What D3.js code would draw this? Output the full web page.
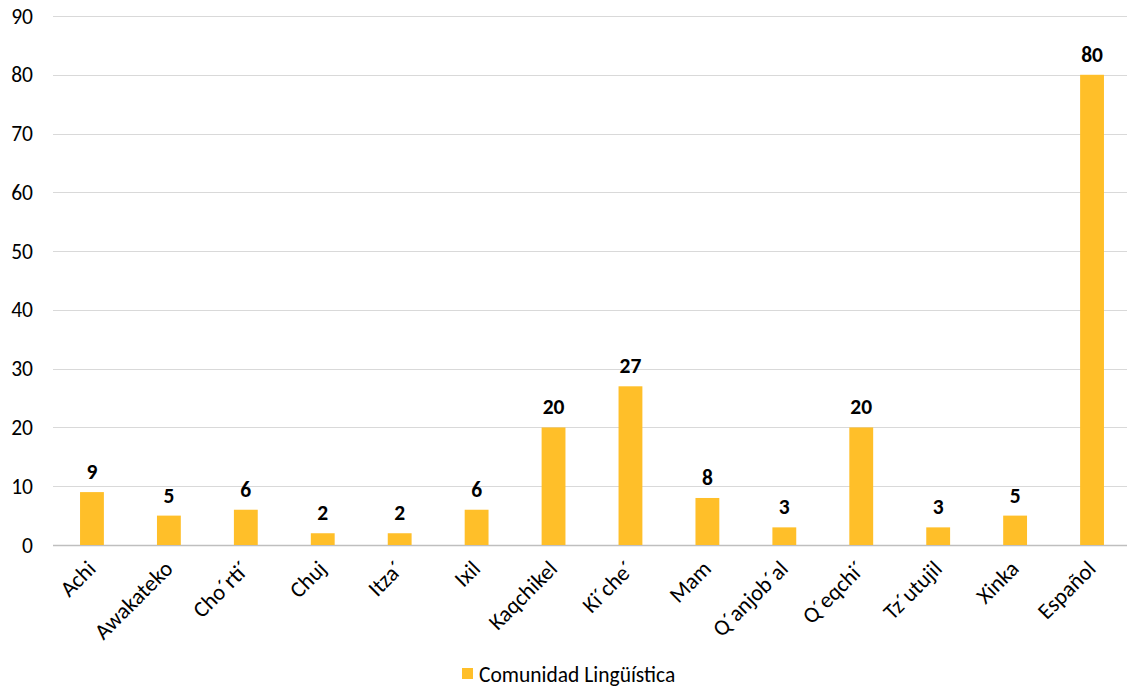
<!DOCTYPE html>
<html lang="es">
  <head>
    <meta charset="utf-8">
    <title>Comunidad Lingüística</title>
    <script src="https://d3js.org/d3.v7.min.js"></script>
    <style>
      body { margin: 0; background: #fff; }
      text { font-family: Carlito, Lato, "Noto Sans", sans-serif; fill: #000; }
    </style>
  </head>
  <body>
  <script>
  // data
  var categories = ["Achi", "Awakateko", "Cho´rti´", "Chuj", "Itza´", "Ixil", "Kaqchikel",
                    "Ki´che´", "Mam", "Q´anjob´al", "Q´eqchi´", "Tz´utujil", "Xinka", "Español"];
  var values = [9, 5, 6, 2, 2, 6, 20, 27, 8, 3, 20, 3, 5, 80];
  var yTicks = [0, 10, 20, 30, 40, 50, 60, 70, 80, 90];
  var seriesName = "Comunidad Lingüística";

  var w = 1127, h = 690;
  var barColor = "#FFBF29";

  var svg = d3.select("body").append("svg")
    .attr("width", w)
    .attr("height", h);

  var x = d3.scaleBand()
    .domain(categories)
    .range([53.5, 1130.5])
    .paddingInner(0.69)
    .paddingOuter(0.345);

  var y = d3.scaleLinear()
    .domain([0, 90])
    .range([545, 16]);

  // gridlines
  svg.append("g").selectAll("line")
    .data(yTicks)
    .enter().append("line")
    .attr("x1", 53)
    .attr("x2", w)
    .attr("y1", d => Math.round(y(d)) + 0.5)
    .attr("y2", d => Math.round(y(d)) + 0.5)
    .attr("stroke", d => d === 0 ? "#BFBFBF" : "#D9D9D9")
    .attr("stroke-width", d => d === 0 ? 1.5 : 1);

  // y axis labels
  svg.append("g").selectAll("text")
    .data(yTicks)
    .enter().append("text")
    .attr("x", 33)
    .attr("y", d => y(d))
    .attr("dy", "0.35em")
    .attr("text-anchor", "end")
    .style("font-size", "21.5px")
    .text(d => d);

  // bars
  svg.append("g").selectAll("rect")
    .data(values)
    .enter().append("rect")
    .attr("x", (d, i) => x(categories[i]))
    .attr("width", x.bandwidth())
    .attr("y", d => y(d))
    .attr("height", d => y(0) - y(d))
    .attr("fill", barColor);

  // value labels
  svg.append("g").selectAll("text")
    .data(values)
    .enter().append("text")
    .attr("x", (d, i) => x(categories[i]) + x.bandwidth() / 2)
    .attr("y", d => y(d) - 13)
    .attr("text-anchor", "middle")
    .style("font-size", "21.5px")
    .style("font-weight", "bold")
    .text(d => d);

  // x labels, rotated
  svg.append("g").selectAll("text")
    .data(categories)
    .enter().append("text")
    .attr("transform", d => "translate(" + (x(d) + x.bandwidth() / 2 - 6) + ",559) rotate(-45)")
    .attr("text-anchor", "end")
    .attr("dy", "0.7em")
    .style("font-size", "22.5px")
    .text(d => d);

  // legend
  var legend = svg.append("g").attr("transform", "translate(462,668)");
  legend.append("rect")
    .attr("width", 11)
    .attr("height", 11)
    .attr("fill", barColor);
  legend.append("text")
    .attr("x", 17)
    .attr("y", 6)
    .attr("dy", "0.35em")
    .style("font-size", "21.5px")
    .text(seriesName);
  </script>
  </body>
</html>
